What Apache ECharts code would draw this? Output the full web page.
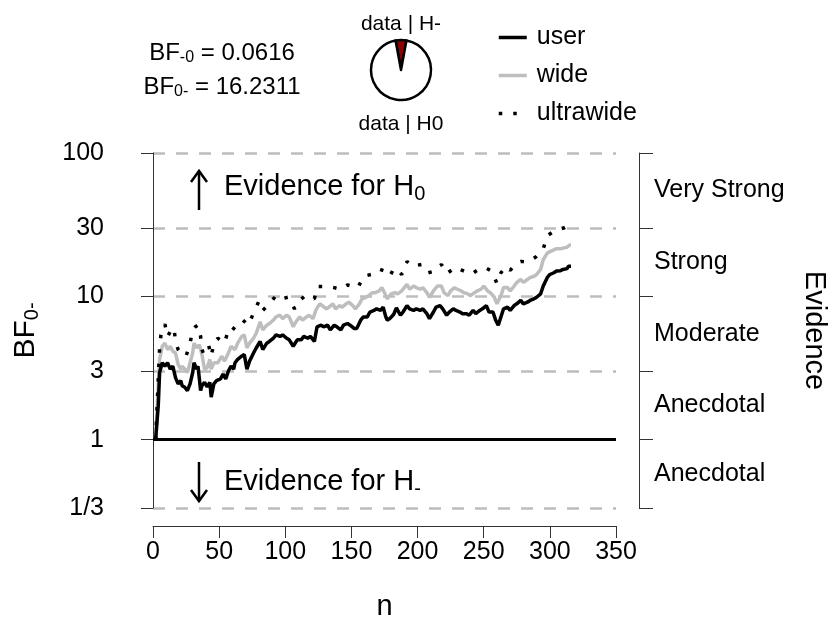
<!DOCTYPE html>
<html>
<head>
<meta charset="utf-8">
<script src="https://cdn.jsdelivr.net/npm/echarts@6.0.0/dist/echarts.min.js"></script>
<style>
html, body { margin: 0; padding: 0; background: #fff; }
#chart { width: 836px; height: 626px; }
</style>
</head>
<body>
<div id="chart"></div>
<script>
// Bayes factors
const BF_m0 = 0.0616;
const BF_0m = 16.2311;

const nUser = [2, 4, 5, 7, 9, 11, 13, 15, 17, 19, 21, 22, 24, 26, 28, 30, 31, 33, 34, 36, 37, 39, 41, 43, 44, 46, 48, 51, 53, 55, 57, 59, 61, 62, 64, 67, 69, 71, 73, 76, 78, 81, 83, 86, 88, 91, 93, 96, 98, 101, 103, 106, 107, 109, 112, 114, 117, 119, 122, 124, 127, 129, 132, 134, 137, 139, 142, 144, 147, 149, 152, 154, 157, 159, 162, 164, 167, 169, 172, 174, 176, 177, 179, 182, 184, 187, 189, 192, 194, 197, 199, 202, 204, 207, 209, 212, 214, 217, 219, 222, 224, 227, 229, 232, 234, 237, 239, 242, 244, 247, 249, 252, 254, 257, 259, 261, 263, 265, 268, 270, 273, 275, 278, 280, 283, 285, 288, 290, 293, 295, 298, 300, 303, 305, 308, 310, 313, 314, 316];
const bfUser = [1, 1.74, 2.94, 3.44, 3.26, 3.44, 3.10, 3.26, 2.71, 2.45, 2.58, 2.38, 2.32, 2.20, 2.45, 2.94, 3.44, 3.10, 3.26, 2.20, 2.38, 2.51, 2.33, 2.51, 1.98, 2.45, 2.58, 2.65, 2.86, 2.65, 3.01, 3.26, 3.10, 3.44, 3.63, 3.82, 3.92, 3.10, 3.53, 4.02, 4.36, 4.84, 4.25, 4.71, 4.84, 5.10, 5.38, 5.25, 5.38, 5.10, 4.97, 4.48, 4.36, 4.97, 4.97, 5.25, 5.10, 5.25, 4.84, 6.13, 6.29, 6.13, 6.29, 5.82, 6.29, 6.13, 5.82, 6.29, 6.46, 6.29, 5.97, 5.97, 6.82, 7.18, 7.18, 7.77, 7.97, 8.18, 7.97, 8.40, 7.18, 6.82, 6.99, 7.5, 8.3, 7.38, 7.77, 8.62, 8.18, 7.97, 8.18, 7.97, 8.18, 7.57, 6.99, 7.77, 8.40, 8.62, 8.18, 7.38, 7.77, 8.18, 7.97, 7.77, 7.57, 7.57, 7.38, 7.97, 7.57, 7.97, 8.18, 8.62, 7.77, 7.77, 6.82, 6.29, 7.18, 8.18, 8.40, 7.97, 8.62, 8.86, 9.36, 8.86, 9.10, 9.36, 9.60, 9.85, 10.4, 11.8, 13.5, 14.2, 14.6, 15.0, 15.1, 15.4, 15.6, 16.2, 16.23];

const nWide = [2, 5, 7, 9, 11, 13, 15, 17, 19, 21, 22, 24, 26, 28, 30, 31, 33, 35, 37, 39, 41, 43, 44, 46, 49, 52, 54, 57, 59, 62, 64, 67, 69, 71, 73, 76, 78, 81, 83, 86, 88, 91, 93, 96, 98, 101, 103, 106, 108, 111, 113, 116, 118, 121, 123, 126, 128, 131, 133, 136, 138, 141, 143, 146, 148, 151, 153, 156, 158, 161, 163, 166, 168, 171, 173, 175, 177, 178, 180, 183, 185, 188, 192, 194, 197, 199, 202, 204, 207, 209, 212, 215, 218, 220, 223, 225, 228, 230, 233, 235, 238, 240, 243, 245, 248, 250, 253, 255, 258, 260, 263, 265, 268, 270, 273, 275, 278, 280, 283, 285, 288, 290, 293, 295, 298, 300, 303, 305, 308, 310, 313, 315, 316];
const bfWide = [1, 3.63, 4.48, 4.71, 4.25, 4.48, 4.14, 4.02, 3.35, 3.10, 3.26, 3.10, 2.94, 3.44, 4.02, 4.71, 4.36, 4.59, 3.92, 3.10, 3.18, 3.63, 3.10, 3.44, 3.44, 3.82, 3.53, 4.02, 4.48, 4.25, 4.71, 5.24, 5.38, 4.36, 4.71, 5.10, 5.52, 6.63, 5.82, 6.29, 6.46, 6.82, 7.18, 7.38, 6.99, 7.38, 7.18, 6.13, 6.63, 7.18, 6.82, 7.18, 7.38, 6.99, 7.97, 8.86, 8.62, 8.18, 8.40, 8.86, 8.18, 8.62, 8.40, 8.86, 9.10, 8.62, 8.18, 8.86, 9.60, 9.85, 10.1, 10.6, 10.6, 10.9, 11.5, 10.6, 9.6, 9.85, 10.4, 10.6, 10.4, 10.9, 12.1, 11.2, 11.8, 11.5, 11.2, 11.5, 10.6, 9.85, 10.9, 11.8, 11.8, 10.6, 10.1, 10.9, 11.5, 11.2, 10.9, 10.6, 10.4, 10.1, 10.6, 10.9, 11.2, 11.8, 10.9, 10.6, 9.85, 8.86, 10.1, 11.5, 11.5, 10.9, 11.8, 12.5, 13.1, 12.5, 13.1, 13.5, 13.8, 14.2, 15.4, 18.0, 20.0, 20.5, 21.1, 21.5, 21.5, 21.7, 22.0, 22.8, 22.8];

const nUltra = [2, 5, 6, 9, 11, 13, 15, 16, 17, 19, 22, 25, 28, 30, 32, 34, 36, 37, 38, 42, 44, 46, 49, 54, 57, 59, 64, 68, 72, 76, 80, 83, 88, 93, 97, 102, 107, 111, 115, 122, 124, 132, 137, 142, 147, 155, 159, 165, 171, 175, 179, 182, 184, 188, 192, 196, 203, 208, 213, 218, 222, 229, 233, 238, 241, 246, 251, 256, 260, 263, 267, 270, 275, 278, 284, 290, 295, 298, 304, 311, 316];
const bfUltra = [1, 4.36, 5.38, 6.39, 5.24, 5.66, 5.52, 5.87, 4.84, 4.25, 3.92, 3.82, 4.71, 5.82, 6.13, 6.29, 5.24, 4.25, 4.02, 4.59, 3.82, 4.71, 5.10, 4.71, 5.82, 5.65, 6.46, 6.82, 6.29, 7.64, 9.23, 7.97, 8.86, 10.1, 9.6, 9.85, 8.18, 9.36, 10.1, 9.6, 11.7, 11.7, 11.5, 11.2, 12.0, 11.5, 13.8, 14.2, 15.5, 15.0, 13.8, 15.6, 15.5, 14.2, 17.5, 16.2, 16.7, 14.6, 15.0, 16.7, 14.4, 16.0, 15.3, 14.6, 14.3, 15.4, 15.9, 15.0, 12.3, 14.6, 16.2, 15.2, 17.1, 17.5, 17.4, 19.0, 21.4, 26.5, 28.8, 30.1, 32.0];

const yTicks = [1 / 3, 1, 3, 10, 30, 100];
const evidenceAt = [Math.sqrt(3000), Math.sqrt(300), Math.sqrt(30), Math.sqrt(3), Math.sqrt(1 / 3)];
const evidenceLabels = ['Very Strong', 'Strong', 'Moderate', 'Anecdotal', 'Anecdotal'];

const font = '"Liberation Sans", Arial, sans-serif';
const pair = (ns, vs) => ns.map((n, i) => [n, vs[i]]);
const nearest = (arr, v) => {
    let best = 0;
    arr.forEach((a, i) => { if (Math.abs(Math.log(a / v)) < Math.abs(Math.log(arr[best] / v))) best = i; });
    return best;
};
const subRich = (big, small, drop) => ({
    a: { fontSize: big, fontFamily: font, color: '#000', fill: '#000' },
    s: { fontSize: small, fontFamily: font, color: '#000', fill: '#000', verticalAlign: 'bottom', padding: [drop, 0, 0, 0] }
});

let chart = echarts.init(document.getElementById('chart'));
chart.setOption({
    animation: false,
    textStyle: { fontFamily: font },
    grid: { left: 153, right: 216, top: 153, bottom: 111 },
    legend: {
        data: ['user', 'wide', 'ultrawide'],
        orient: 'vertical',
        left: 492,
        top: 20,
        itemWidth: 28,
        itemHeight: 12,
        itemGap: 13,
        itemStyle: { opacity: 0 },
        lineStyle: { width: 3.5 },
        textStyle: { fontSize: 25, color: '#000', fontFamily: font, padding: [0, 0, 0, 5] }
    },
    xAxis: {
        type: 'value',
        min: 0, max: 350, interval: 50,
        offset: 18,
        name: 'n',
        nameLocation: 'middle',
        nameGap: 66,
        nameTextStyle: { fontSize: 29, color: '#000' },
        axisLine: { show: true, lineStyle: { color: '#333', width: 1 } },
        axisTick: { show: true, length: 12, lineStyle: { color: '#333' } },
        axisLabel: { fontSize: 25, color: '#000', margin: 14 },
        splitLine: { show: false }
    },
    yAxis: [
        {
            type: 'log', logBase: 10,
            min: 1 / 3, max: 100,
            position: 'left',
            offset: 23,
            name: '{a|BF}{s|0-}',
            nameLocation: 'middle',
            nameRotate: 90,
            nameGap: 88,
            nameTextStyle: { color: '#000', rich: subRich(30, 20, 12) },
            axisLine: { show: true, lineStyle: { color: '#333', width: 1 } },
            axisTick: { show: true, length: 12, customValues: yTicks, lineStyle: { color: '#333' } },
            axisLabel: {
                customValues: yTicks,
                fontSize: 25, color: '#000', margin: 26,
                formatter: v => (v < 0.5 ? '1/3' : String(Math.round(v)))
            },
            splitLine: { show: true, lineStyle: { color: '#bdbdbd', width: 2.5, type: [12, 11] } }
        },
        {
            type: 'log', logBase: 10,
            min: 1 / 3, max: 100,
            position: 'right',
            offset: 23,
            name: 'Evidence',
            nameLocation: 'middle',
            nameRotate: -90,
            nameGap: 160,
            nameTextStyle: { fontSize: 29, color: '#000' },
            axisLine: { show: true, lineStyle: { color: '#333', width: 1 } },
            axisTick: { show: true, length: 14, customValues: yTicks, lineStyle: { color: '#333' } },
            axisLabel: {
                customValues: evidenceAt,
                fontSize: 25, color: '#000', margin: 15,
                formatter: v => evidenceLabels[nearest(evidenceAt, v)]
            },
            splitLine: { show: false }
        }
    ],
    graphic: [
        { type: 'text', style: { text: '{a|BF}{s|-0}{a| = 0.0616}', x: 222, y: 53, align: 'center', verticalAlign: 'middle', rich: subRich(24, 16, 10) } },
        { type: 'text', style: { text: '{a|BF}{s|0-}{a| = 16.2311}', x: 222, y: 87, align: 'center', verticalAlign: 'middle', rich: subRich(24, 16, 10) } },
        { type: 'text', style: { text: 'data | H-', x: 401, y: 24, align: 'center', verticalAlign: 'middle', fontSize: 21, fontFamily: font, fill: '#000' } },
        { type: 'text', style: { text: 'data | H0', x: 401, y: 124, align: 'center', verticalAlign: 'middle', fontSize: 21, fontFamily: font, fill: '#000' } },
        // arrows
        { type: 'line', shape: { x1: 199, y1: 210, x2: 199, y2: 171 }, style: { stroke: '#000', lineWidth: 2.5 } },
        { type: 'polyline', shape: { points: [[191, 182], [199, 171], [207, 182]] }, style: { stroke: '#000', lineWidth: 2.5, fill: null } },
        { type: 'line', shape: { x1: 199, y1: 462, x2: 199, y2: 501 }, style: { stroke: '#000', lineWidth: 2.5 } },
        { type: 'polyline', shape: { points: [[191, 490], [199, 501], [207, 490]] }, style: { stroke: '#000', lineWidth: 2.5, fill: null } },
        { type: 'text', style: { text: '{a|Evidence for H}{s|0}', x: 224, y: 187, align: 'left', verticalAlign: 'middle', rich: subRich(29, 20, 14) } },
        { type: 'text', style: { text: '{a|Evidence for H}{s|-}', x: 224, y: 482, align: 'left', verticalAlign: 'middle', rich: subRich(29, 20, 14) } }
    ],
    series: [
        {
            name: 'user', type: 'line', yAxisIndex: 0,
            data: pair(nUser, bfUser),
            symbol: 'none', z: 4,
            itemStyle: { color: '#000' },
            lineStyle: { color: '#000', width: 3.5 },
            markLine: {
                silent: true, symbol: 'none',
                label: { show: false },
                lineStyle: { color: '#000', width: 3, type: 'solid' },
                data: [{ yAxis: 1 }]
            }
        },
        {
            name: 'wide', type: 'line', yAxisIndex: 0,
            data: pair(nWide, bfWide),
            symbol: 'none', z: 3,
            itemStyle: { color: '#bebebe' },
            lineStyle: { color: '#bebebe', width: 3.5 }
        },
        {
            name: 'ultrawide', type: 'line', yAxisIndex: 0,
            data: pair(nUltra, bfUltra),
            symbol: 'none', z: 5,
            itemStyle: { color: '#000' },
            lineStyle: { color: '#000', width: 3.5, type: [3.5, 11] }
        },
        {
            type: 'pie',
            center: [401, 70],
            radius: 30,
            startAngle: 90 + 180 * BF_m0 / (1 + BF_m0),
            clockwise: true,
            silent: true,
            label: { show: false },
            labelLine: { show: false },
            emphasis: { disabled: true },
            itemStyle: { borderColor: '#000', borderWidth: 2.5 },
            data: [
                { name: 'data | H-', value: BF_m0, itemStyle: { color: '#8b0000' } },
                { name: 'data | H0', value: 1, itemStyle: { color: '#fff' } }
            ]
        }
    ]
});
</script>
</body>
</html>
